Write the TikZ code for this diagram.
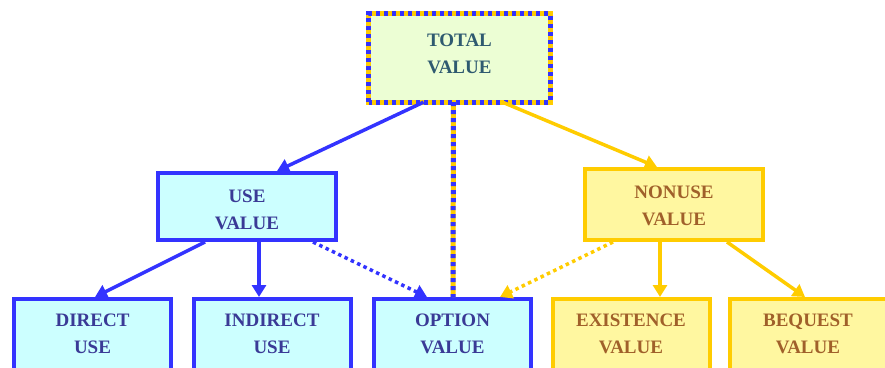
\documentclass[tikz,border=0pt]{standalone}
\usepackage{fontspec}
\setmainfont{Liberation Serif}
\usetikzlibrary{arrows.meta}
\definecolor{bblue}{RGB}{51,51,255}
\definecolor{byellow}{RGB}{255,204,0}
\definecolor{cyanfill}{RGB}{204,255,255}
\definecolor{yelfill}{RGB}{255,247,160}
\definecolor{mixfill}{RGB}{236,254,212}
\definecolor{usetext}{RGB}{58,58,150}
\definecolor{nontext}{RGB}{160,96,42}
\definecolor{tottext}{RGB}{47,90,112}
\tikzset{
  lbl/.style={font=\fontsize{19}{27}\selectfont\bfseries, align=center},
  usebox/.style={draw=bblue, fill=cyanfill, line width=4pt, inner sep=0pt},
  nonbox/.style={draw=byellow, fill=yelfill, line width=4pt, inner sep=0pt},
  totbox/.style={fill=mixfill, inner sep=0pt},
  bluearr/.style={draw=bblue, line width=3.5pt, -{Triangle[length=12pt,width=14pt]}},
  yelarr/.style={draw=byellow, line width=3.5pt, -{Triangle[length=12pt,width=14pt]}},
  dotarr/.style={dash pattern=on 3.5pt off 3.5pt},
  stripe/.style={line width=5pt, dash pattern=on 4pt off 4pt, draw=bblue},
}
\begin{document}
\begin{tikzpicture}[x=1pt,y=1pt]
\useasboundingbox (0,0) rectangle (885,367);
\clip (0,0) rectangle (885,367);
% top box
\node[totbox, minimum width=181pt, minimum height=88pt] (total) at (459.5,309) {};
\draw[byellow, line width=5pt] (total.south west) rectangle (total.north east);
\draw[stripe] (total.south west) rectangle (total.north east);
\node[lbl, text=tottext] (totallbl) at (459.5,313) {TOTAL\\VALUE};
% middle boxes
\node[usebox, minimum width=178pt, minimum height=67pt] (use) at (247,160.5) {};
\node[lbl, text=usetext] (uselbl) at (247,157) {USE\\VALUE};
\node[nonbox, minimum width=178pt, minimum height=71pt] (nonuse) at (674,162.5) {};
\node[lbl, text=nontext] (nonuselbl) at (674,161) {NONUSE\\VALUE};
% bottom boxes
\node[usebox, minimum width=157pt, minimum height=90pt] (direct) at (92.5,23) {};
\node[usebox, minimum width=157pt, minimum height=90pt] (indirect) at (272,23) {};
\node[usebox, minimum width=157pt, minimum height=90pt] (option) at (452.5,23) {};
\node[nonbox, minimum width=157pt, minimum height=90pt] (exist) at (631,23) {};
\node[nonbox, minimum width=157pt, minimum height=90pt] (bequest) at (808,23) {};
\node[lbl, text=usetext] (directlbl) at (92.5,33) {DIRECT\\USE};
\node[lbl, text=usetext] (indirectlbl) at (272,33) {INDIRECT\\USE};
\node[lbl, text=usetext] (optionlbl) at (452.5,33) {OPTION\\VALUE};
\node[lbl, text=nontext] (existlbl) at (631,33) {EXISTENCE\\VALUE};
\node[lbl, text=nontext] (bequestlbl) at (808,33) {BEQUEST\\VALUE};
% connectors
\draw[bluearr] ([xshift=-36pt]total.south) -- ([xshift=30pt]use.north);
\draw[yelarr] ([xshift=43pt]total.south) -- ([xshift=-17pt]nonuse.north);
\draw[byellow, line width=5pt] ([xshift=-6pt]total.south) -- ([xshift=0.5pt]option.north);
\draw[stripe] ([xshift=-6pt]total.south) -- ([xshift=0.5pt]option.north);
\draw[bluearr] ([xshift=-42pt]use.south) -- ([xshift=2.5pt]direct.north);
\draw[bluearr] ([xshift=12pt]use.south) -- ([xshift=-13pt]indirect.north);
\draw[bluearr, dotarr] ([xshift=66pt]use.south) -- ([xshift=-25.5pt]option.north);
\draw[yelarr, dotarr] ([xshift=-61pt]nonuse.south) -- ([xshift=47.5pt]option.north);
\draw[yelarr] ([xshift=-14pt]nonuse.south) -- ([xshift=29pt]exist.north);
\draw[yelarr] ([xshift=53pt]nonuse.south) -- ([xshift=-3pt]bequest.north);
\end{tikzpicture}
\end{document}
